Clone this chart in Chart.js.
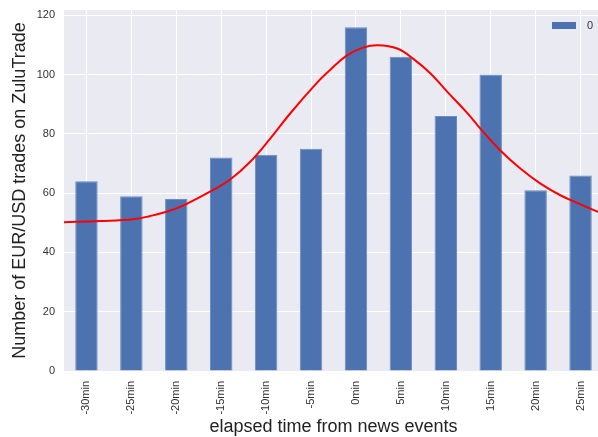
<!DOCTYPE html>
<html>
<head>
<meta charset="utf-8">
<script src="https://cdn.jsdelivr.net/npm/chart.js@4/dist/chart.umd.min.js"></script>
<style>
  html, body { margin: 0; padding: 0; background: #fff; overflow: hidden; width: 598px; height: 437px; }
  #wrap { position: absolute; left: 0; top: 0; width: 603px; height: 437px; }
</style>
</head>
<body>
<div id="wrap"><canvas id="c" width="603" height="437"></canvas></div>
<script>
// ---- data ----
const categories = ['-30min','-25min','-20min','-15min','-10min','-5min','0min','5min','10min','15min','20min','25min'];
const tradeCounts = [64, 59, 58, 72, 73, 75, 116, 106, 86, 100, 61, 66];
const seriesLabel = '0';
// fitted curve: position in category units, value
const curveX = [-0.5, 0.30, 1.04, 1.42, 1.80, 2.15, 2.75, 3.20, 3.64, 4.09, 4.53, 5.13, 5.42, 5.80, 6.16, 6.49, 6.92, 7.27, 7.66, 8.04, 8.48, 8.77, 9.21, 9.66, 10.10, 10.55, 10.99, 11.39, 11.5];
const curveY = [50.2, 50.6, 51.2, 52.3, 53.8, 55.8, 60.5, 64.6, 70.5, 78.4, 86.8, 97.2, 101.5, 106.5, 109.1, 109.9, 108.8, 105.4, 100.4, 94.1, 87.0, 81.8, 74.5, 68.3, 63.3, 59.3, 56.3, 53.7, 53.2];
const yTicks = [0, 20, 40, 60, 80, 100, 120];

const BLUE = '#4C72B0';
const BG = '#EAEAF2';
const TXT = '#333333';

const bgPlugin = {
  id: 'bg',
  beforeDraw(chart) {
    const {ctx, chartArea: a} = chart;
    ctx.save();
    ctx.fillStyle = BG;
    ctx.fillRect(a.left, a.top, a.right - a.left, a.bottom - a.top);
    ctx.restore();
  }
};

const legendPlugin = {
  id: 'innerLegend',
  afterDatasetsDraw(chart) {
    const {ctx} = chart;
    const ds = chart.data.datasets[0];
    ctx.save();
    ctx.fillStyle = ds.backgroundColor;
    ctx.fillRect(552, 22, 24, 7);
    ctx.fillStyle = TXT;
    ctx.font = '11px "Liberation Sans", Arial, sans-serif';
    ctx.textBaseline = 'middle';
    ctx.textAlign = 'left';
    ctx.fillText(ds.label, 587, 26);
    ctx.restore();
  }
};

new Chart(document.getElementById('c'), {
  data: {
    labels: categories,
    datasets: [
      {
        type: 'bar',
        label: seriesLabel,
        data: tradeCounts,
        backgroundColor: BLUE,
        borderColor: '#6C8CC2',
        borderWidth: 1,
        grouped: false,
        barPercentage: 0.5,
        categoryPercentage: 1.0,
        xAxisID: 'x',
        yAxisID: 'y',
        order: 2
      },
      {
        type: 'line',
        label: 'fit',
        data: curveX.map((x, i) => ({x: x, y: curveY[i]})),
        borderColor: '#FF0000',
        borderWidth: 2,
        pointRadius: 0,
        fill: false,
        tension: 0.4,
        xAxisID: 'x2',
        yAxisID: 'y',
        order: 1
      }
    ]
  },
  plugins: [bgPlugin, legendPlugin],
  options: {
    responsive: false,
    animation: false,
    devicePixelRatio: 1,
    layout: { padding: { top: 10, left: 0, right: 0, bottom: 0 } },
    plugins: { legend: { display: false }, tooltip: { enabled: false } },
    scales: {
      x: {
        type: 'category',
        offset: true,
        grid: { color: '#FFFFFF', lineWidth: 1, offset: false, drawTicks: false },
        border: { display: false },
        ticks: {
          minRotation: 90, maxRotation: 90, padding: 10,
          color: TXT,
          font: { family: '"Liberation Sans", Arial, sans-serif', size: 11 }
        },
        title: {
          display: true,
          text: 'elapsed time from news events',
          color: '#222',
          font: { family: '"Liberation Sans", Arial, sans-serif', size: 18 },
          padding: { top: 0, bottom: -1 }
        },
        afterFit(s) { s.height = 66; s.paddingLeft = 0; s.paddingRight = 0; }
      },
      x2: {
        type: 'linear',
        display: false,
        min: -0.5,
        max: 11.5
      },
      y: {
        type: 'linear',
        min: 0,
        max: 121.8,
        grid: { color: '#FFFFFF', lineWidth: 1, drawTicks: false },
        border: { display: false },
        afterBuildTicks(s) { s.ticks = yTicks.map(v => ({value: v})); },
        ticks: {
          padding: 9,
          color: TXT,
          font: { family: '"Liberation Sans", Arial, sans-serif', size: 11 }
        },
        title: {
          display: true,
          text: 'Number of EUR/USD trades on ZuluTrade',
          color: '#222',
          font: { family: '"Liberation Sans", Arial, sans-serif', size: 18 },
          padding: { top: 9, bottom: 0 }
        },
        afterFit(s) { s.width = 64; s.paddingTop = 0; s.paddingBottom = 0; }
      }
    }
  }
});
</script>
</body>
</html>
